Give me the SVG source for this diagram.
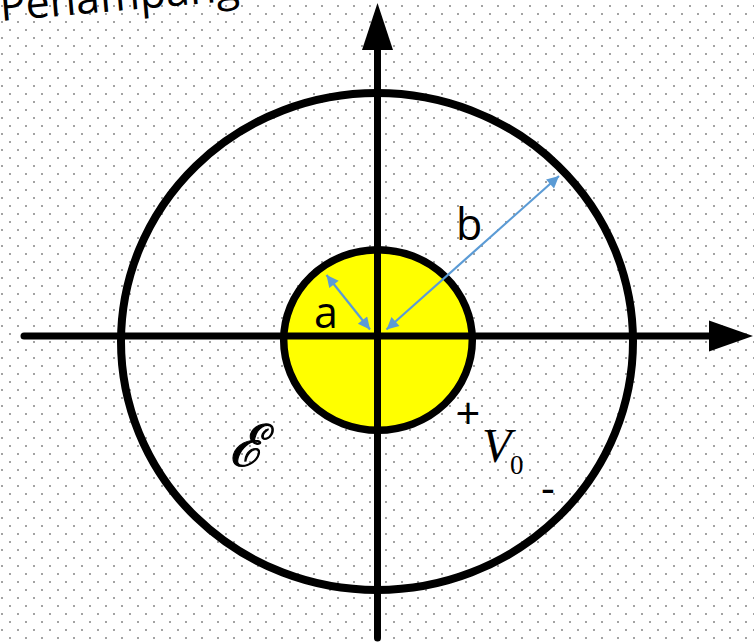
<svg xmlns="http://www.w3.org/2000/svg" width="754" height="643" viewBox="0 0 754 643">
  <defs>
    <pattern id="dots" x="0" y="0" width="16" height="16" patternUnits="userSpaceOnUse">
      <rect x="1" y="5" width="2" height="2" fill="#a3a3a3"/>
      <rect x="9" y="13" width="2" height="2" fill="#a3a3a3"/>
    </pattern>
    <marker id="blueHead" viewBox="0 0 10 10" refX="10" refY="5" markerUnits="userSpaceOnUse" markerWidth="16" markerHeight="12" orient="auto-start-reverse">
      <path d="M0,0 L10,5 L0,10 z" fill="#5B9BD5"/>
    </marker>
    <style>
      .ring { fill: none; stroke: #000; stroke-width: 8; }
      .axis { stroke: #000; stroke-width: 7; stroke-linecap: round; fill: none; }
      .head { fill: #000; }
      .dim { stroke: #5B9BD5; stroke-width: 2.2; fill: none; marker-start: url(#blueHead); marker-end: url(#blueHead); }
      .lbl { font-family: "Open Sans", "Liberation Sans", sans-serif; font-size: 43px; fill: #000; }
      .math { font-family: "Liberation Serif", "Times New Roman", serif; fill: #000; }
    </style>
  </defs>

  <rect x="0" y="0" width="754" height="643" fill="#ffffff"/>
  <rect x="0" y="0" width="754" height="643" fill="url(#dots)"/>

  <g id="title">
    <text class="lbl" x="1" y="21" font-size="41" transform="rotate(-5 1 21)">Penampang</text>
  </g>

  <g id="outer-conductor">
    <ellipse class="ring" cx="377" cy="341.5" rx="256" ry="248.5"/>
  </g>

  <g id="inner-conductor">
    <ellipse cx="378" cy="340" rx="94.3" ry="90.3" fill="#ffff00" stroke="#000" stroke-width="7.5"/>
  </g>

  <g id="axes">
    <line class="axis" x1="24" y1="336" x2="712" y2="336"/>
    <polygon class="head" points="709,320.5 753,336 709,351.5"/>
    <line class="axis" x1="377.5" y1="638" x2="377.5" y2="48"/>
    <polygon class="head" points="362,50 377.5,3 393,50"/>
  </g>

  <g id="connectors">
    <line class="dim" x1="326.5" y1="275" x2="370" y2="329.5"/>
    <line class="dim" x1="386.5" y1="329.5" x2="559" y2="176"/>
  </g>

  <g id="labels">
    <text class="lbl" x="314" y="328">a</text>
    <text class="lbl" x="456" y="240">b</text>
    <text class="lbl" x="468" y="429" font-size="40" text-anchor="middle">+</text>
    <text class="lbl" x="541" y="503" font-size="40">-</text>
    <text class="math" x="482" y="461.5" font-size="48" font-style="italic">V</text>
    <text class="math" x="510" y="474" font-size="27">0</text>
    <text x="229" y="466" font-size="58" font-style="italic" font-family="'DejaVu Serif', 'Liberation Serif', serif" stroke="#000" stroke-width="1.2">ℰ</text>
  </g>
</svg>
